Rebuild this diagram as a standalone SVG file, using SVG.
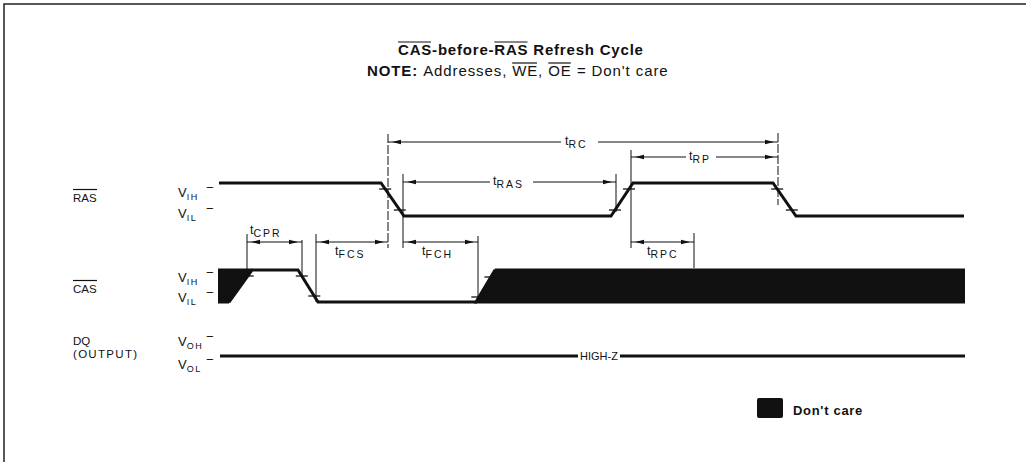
<svg xmlns="http://www.w3.org/2000/svg" width="1026" height="462" viewBox="0 0 1026 462">
<style>
text{font-family:"Liberation Sans",Arial,sans-serif;fill:#111}
.title{font-size:15px;font-weight:bold;letter-spacing:0.8px}
.note{font-size:15px;letter-spacing:0.9px}
.b{font-weight:bold}
.sig{fill:none;stroke:#111;stroke-width:3;stroke-linejoin:miter}
.blk{fill:#111;stroke:none}
.dim{fill:none;stroke:#111;stroke-width:1.2}
.ext{fill:none;stroke:#111;stroke-width:1}
.dash{stroke-dasharray:9 2}
.tick{fill:none;stroke:#111;stroke-width:1.3}
.ah{fill:#111}
.lbl{font-size:11.5px}
.v{font-size:13px}
.vs{font-size:9px;letter-spacing:1.5px}
.t{font-size:12.5px}
.ts{font-size:10.5px;letter-spacing:2px}
.ol{stroke:#111;stroke-width:1.2}
.frame{fill:none;stroke:#222;stroke-width:1.5}
</style>
<defs>
<path id="ahL" class="ah" d="M0,0 L9,-2.2 L9,2.2 Z"/>
<path id="ahR" class="ah" d="M0,0 L-9,-2.2 L-9,2.2 Z"/>
<path id="tk" class="tick" d="M-6,0 H6"/>
</defs>

<path class="frame" d="M4,462 V4 H1026"/>

<g id="title">
<text class="title" x="398" y="55">CAS</text>
<text class="title" x="432.1" y="55">-before-</text>
<text class="title" x="494.3" y="55">RAS</text>
<text class="title" x="533.3" y="55">Refresh Cycle</text>
<line class="ol" x1="398" y1="42" x2="431" y2="42"/>
<line class="ol" x1="494.3" y1="42" x2="527.5" y2="42"/>
<text class="note b" x="367" y="76">NOTE:</text>
<text class="note" x="423.2" y="76">Addresses,</text>
<text class="note" x="512.2" y="76">WE</text>
<text class="note" x="538.1" y="76">,</text>
<text class="note" x="548.3" y="76">OE</text>
<text class="note" x="576.9" y="76">= Don't care</text>
<line class="ol" x1="512.2" y1="63" x2="537" y2="63"/>
<line class="ol" x1="548.3" y1="63" x2="570.8" y2="63"/>
</g>

<g id="ras">
<text class="lbl" x="73" y="202">RAS</text>
<line class="ol" x1="73" y1="189.5" x2="97" y2="189.5"/>
<text class="v" x="178" y="197">V<tspan class="vs" dy="3">IH</tspan><tspan x="206" dy="-8">−</tspan></text>
<text class="v" x="178" y="218">V<tspan class="vs" dy="3">IL</tspan><tspan x="206" dy="-8">−</tspan></text>
<path class="sig" d="M219,183 H381 L404,216 H611 L633,183 H773 L796,216 H964"/>
<use href="#tk" x="385.2" y="189"/>
<use href="#tk" x="399.8" y="210"/>
<use href="#tk" x="615" y="210"/>
<use href="#tk" x="629" y="189"/>
<use href="#tk" x="777.2" y="189"/>
<use href="#tk" x="791.8" y="210"/>
</g>

<g id="cas">
<text class="lbl" x="73" y="293">CAS</text>
<line class="ol" x1="73" y1="280.5" x2="97" y2="280.5"/>
<text class="v" x="178" y="282">V<tspan class="vs" dy="3">IH</tspan><tspan x="206" dy="-8">−</tspan></text>
<text class="v" x="178" y="302">V<tspan class="vs" dy="3">IL</tspan><tspan x="206" dy="-8">−</tspan></text>
<polygon class="blk" points="218,268.5 252,268.5 229,303.5 218,303.5"/>
<polygon class="blk" points="474,303.5 495,268.5 965,268.5 965,303.5"/>
<path class="sig" d="M229,302 L252,270 H298 L318,302 H476 L495,270"/>
<use href="#tk" x="247.7" y="276"/>
<use href="#tk" x="301.8" y="276"/>
<use href="#tk" x="314.3" y="296"/>
<use href="#tk" x="477.3" y="297"/>
<use href="#tk" x="490.4" y="277"/>
</g>

<g id="dq">
<text class="lbl" x="73" y="345">DQ</text>
<text class="lbl" x="73" y="358" style="letter-spacing:1.3px">(OUTPUT)</text>
<text class="v" x="178" y="346">V<tspan class="vs" dy="3">OH</tspan><tspan x="206" dy="-8">−</tspan></text>
<text class="v" x="178" y="369">V<tspan class="vs" dy="3">OL</tspan><tspan x="206" dy="-8">−</tspan></text>
<path class="sig" d="M220,356 H578 M620,356 H965"/>
<text x="580" y="360" style="font-size:11px">HIGH-Z</text>
</g>

<g id="legend">
<rect x="757" y="398" width="26" height="20" rx="2" fill="#111"/>
<text class="b" x="793" y="415" style="font-size:13px;letter-spacing:0.7px">Don't care</text>
</g>

<g id="connectors">
<!-- extension lines -->
<line class="ext" x1="247" y1="234" x2="247" y2="270"/>
<line class="ext" x1="302" y1="240" x2="302" y2="277"/>
<line class="ext" x1="316" y1="234" x2="316" y2="302"/>
<line class="ext dash" x1="388" y1="134" x2="388" y2="248"/>
<line class="ext" x1="403" y1="174" x2="403" y2="248"/>
<line class="ext" x1="478" y1="236" x2="478" y2="302"/>
<line class="ext" x1="616" y1="174" x2="616" y2="212"/>
<line class="ext" x1="631" y1="150" x2="631" y2="248"/>
<line class="ext" x1="694" y1="233" x2="694" y2="268"/>
<line class="ext dash" x1="778" y1="133" x2="778" y2="205"/>

<!-- tRC -->
<path class="dim" d="M388,142 H561 M598,142 H778"/>
<use href="#ahL" x="392" y="142"/>
<use href="#ahR" x="774" y="142"/>
<text class="t" x="565" y="145">t<tspan class="ts" dy="3">RC</tspan></text>
<!-- tRP -->
<path class="dim" d="M631,157 H686 M716,157 H778"/>
<use href="#ahL" x="635" y="157"/>
<use href="#ahR" x="774" y="157"/>
<text class="t" x="689" y="160">t<tspan class="ts" dy="3">RP</tspan></text>
<!-- tRAS -->
<path class="dim" d="M403,182 H490 M533,182 H616"/>
<use href="#ahL" x="407" y="182"/>
<use href="#ahR" x="612" y="182"/>
<text class="t" x="493" y="185">t<tspan class="ts" dy="3">RAS</tspan></text>
<!-- tCPR -->
<path class="dim" d="M247,242 H302"/>
<use href="#ahL" x="251" y="242"/>
<use href="#ahR" x="298" y="242"/>
<text class="t" x="250" y="234">t<tspan class="ts" dy="3">CPR</tspan></text>
<!-- tFCS -->
<path class="dim" d="M316,242 H388"/>
<use href="#ahL" x="320" y="242"/>
<use href="#ahR" x="384" y="242"/>
<text class="t" x="335" y="255">t<tspan class="ts" dy="3">FCS</tspan></text>
<!-- tFCH -->
<path class="dim" d="M403,242 H478"/>
<use href="#ahL" x="407" y="242"/>
<use href="#ahR" x="474" y="242"/>
<text class="t" x="422" y="255">t<tspan class="ts" dy="3">FCH</tspan></text>
<!-- tRPC -->
<path class="dim" d="M631,242 H694"/>
<use href="#ahL" x="635" y="242"/>
<use href="#ahR" x="690" y="242"/>
<text class="t" x="647" y="255">t<tspan class="ts" dy="3">RPC</tspan></text>
</g>
</svg>
